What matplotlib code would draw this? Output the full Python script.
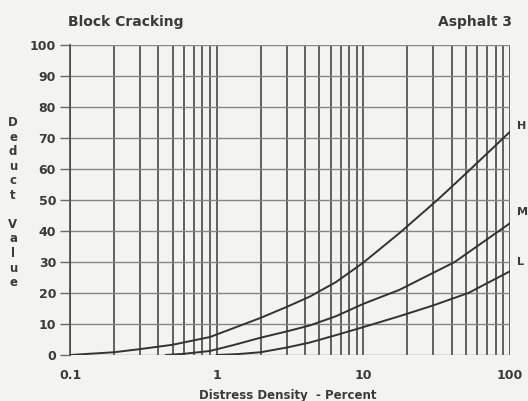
import numpy as np
import matplotlib
matplotlib.use("Agg")
import matplotlib.pyplot as plt
from matplotlib.ticker import FixedLocator, NullFormatter

# Data
h_x = [0.1, 0.2, 0.3, 0.5, 0.9, 2, 3, 4.3, 6.5, 10, 17.6, 32, 50, 100]
h_y = [0, 0.9, 1.9, 3.3, 5.8, 12, 15.5, 18.8, 23.5, 29.8, 39.3, 50, 58.5, 72]
m_x = [0.45, 0.6, 0.9, 1.3, 2, 3, 4.3, 6.5, 10, 17.6, 42, 100]
m_y = [0, 0.4, 1.3, 3.2, 5.6, 7.6, 9.5, 12.5, 16.5, 21, 30, 42.5]
l_x = [1, 1.4, 2, 3, 4.3, 6.5, 10, 17.6, 30, 52, 100]
l_y = [0, 0.3, 0.9, 2.4, 4, 6.4, 9, 12.5, 16, 20, 27]
curve_labels = ["H", "M", "L"]
label_levels = [74, 46, 30]
x_ticks = [0.1, 1, 10, 100]
x_ticklabels = ["0.1", "1", "10", "100"]
y_ticks = list(range(0, 101, 10))

bg = "#f3f3f1"
ink = "#3a3a3a"

fig = plt.figure(figsize=(5.28, 4.01), dpi=100, facecolor=bg)
ax = fig.add_axes([0.1326, 0.1147, 0.8333, 0.7733], facecolor=bg)
ax.set_xscale("log")
ax.set_xlim(0.1, 100)
ax.set_ylim(0, 100)

# vertical grid at every log minor/major tick
vx = []
for d in [0.1, 1, 10]:
    for k in range(1, 10):
        vx.append(d * k)
vx.append(100)
for v in vx:
    ax.axvline(v, color="#474747", lw=1.2, zorder=1)
for yv in y_ticks:
    ax.axhline(yv, color="#858585", lw=1.0, zorder=1)

for xs, ys in [(h_x, h_y), (m_x, m_y), (l_x, l_y)]:
    ax.plot(xs, ys, color="#333333", lw=1.4, zorder=3, solid_joinstyle="round")

for s in ["top", "right", "bottom"]:
    ax.spines[s].set_visible(False)
ax.spines["left"].set_color("#4a4a4a")
ax.spines["left"].set_linewidth(1.2)

ax.xaxis.set_major_locator(FixedLocator(x_ticks))
ax.set_xticklabels(x_ticklabels)
ax.xaxis.set_minor_formatter(NullFormatter())
ax.tick_params(axis="x", which="both", length=0, pad=10, labelsize=9, colors=ink)
ax.set_yticks(y_ticks)
ax.set_yticklabels([str(v) for v in y_ticks])
ax.tick_params(axis="y", length=7, width=1, color="#6a6a6a", pad=3, labelsize=9, colors=ink)
for lab in ax.get_xticklabels() + ax.get_yticklabels():
    lab.set_fontweight("bold")

fig.text(68 / 528, 1 - 22 / 401, "Block Cracking", fontsize=10, fontweight="bold",
         color=ink, ha="left", va="center")
fig.text(512 / 528, 1 - 22 / 401, "Asphalt 3", fontsize=10, fontweight="bold",
         color=ink, ha="right", va="center")
fig.text(288 / 528, 1 - 395 / 401, "Distress Density  - Percent", fontsize=8.5,
         fontweight="bold", color=ink, ha="center", va="center")

# stacked y label
letters = "Deduct Value"
y0 = 123
for i, ch in enumerate(letters):
    if ch == " ":
        continue
    fig.text(13 / 528, 1 - (y0 + i * 14.5) / 401, ch, fontsize=8.5, fontweight="bold",
             color=ink, ha="center", va="center")

# curve labels at right edge
for lab, yy in zip(curve_labels, label_levels):
    ax.text(1.0 + 7 / 440, yy / 100, lab, transform=ax.transAxes, fontsize=8,
            fontweight="bold", color=ink, ha="left", va="center", clip_on=False)

fig.savefig("out.png", dpi=100, facecolor=bg)
